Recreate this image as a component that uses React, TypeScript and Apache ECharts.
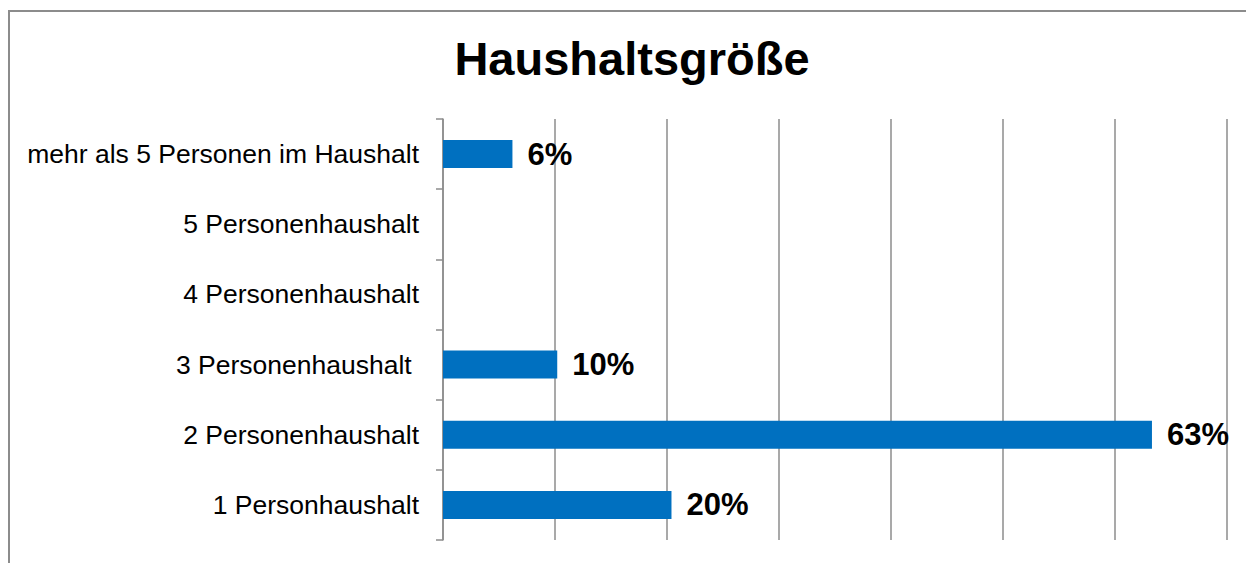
import React, { useEffect, useRef } from "react";
import * as echarts from "echarts";

const categories = [
  "1 Personhaushalt",
  "2 Personenhaushalt",
  "3 Personenhaushalt ",
  "4 Personenhaushalt",
  "5 Personenhaushalt",
  "mehr als 5 Personen im Haushalt",
];
const shares = [20.4, 63.3, 10.2, 0, 0, 6.2];
const titleText = "Haushaltsgröße";

const FONT = "'Liberation Sans', Arial, sans-serif";

export default function App() {
  const ref = useRef<HTMLDivElement>(null);
  useEffect(() => {
    if (!ref.current) return;
    const chart = echarts.init(ref.current, undefined, { renderer: "svg" });
    chart.setOption({
      animation: false,
      backgroundColor: "#fff",
      title: {
        text: titleText,
        left: 627,
        textAlign: "center",
        top: 30,
        textStyle: { fontFamily: FONT, fontSize: 47, fontWeight: "bold", color: "#000" },
      },
      graphic: [
        {
          type: "rect",
          shape: { x: 9, y: 11, width: 1300, height: 600 },
          style: { fill: "none", stroke: "#8c8c8c", lineWidth: 2 },
          silent: true,
        },
      ],
      grid: { left: 443, right: 19, top: 119, bottom: 23, containLabel: false },
      xAxis: {
        type: "value",
        min: 0,
        max: 70,
        interval: 10,
        axisLine: { show: false },
        axisTick: { show: false },
        axisLabel: { show: false },
        splitLine: { show: true, lineStyle: { color: "#8c8c8c", width: 1.5 } },
      },
      yAxis: {
        type: "category",
        data: categories,
        boundaryGap: true,
        axisLine: { show: true, lineStyle: { color: "#8c8c8c", width: 1.5 } },
        axisTick: { show: true, length: 7, lineStyle: { color: "#8c8c8c", width: 1.5 } },
        axisLabel: { margin: 24, fontFamily: FONT, fontSize: 26.5, color: "#000" },
        splitLine: { show: false },
      },
      series: [
        {
          type: "bar",
          data: shares,
          barWidth: 28,
          itemStyle: { color: "#0070C0" },
          label: {
            show: true,
            position: "right",
            distance: 15,
            fontFamily: FONT,
            fontSize: 31,
            fontWeight: "bold",
            color: "#000",
            formatter: (p: any) => (p.value > 0 ? Math.round(p.value) + "%" : ""),
          },
        },
      ],
    });
    return () => chart.dispose();
  }, []);
  return (
    <div
      ref={ref}
      style={{ position: "fixed", left: 0, top: 0, width: 1246, height: 563 }}
    />
  );
}
